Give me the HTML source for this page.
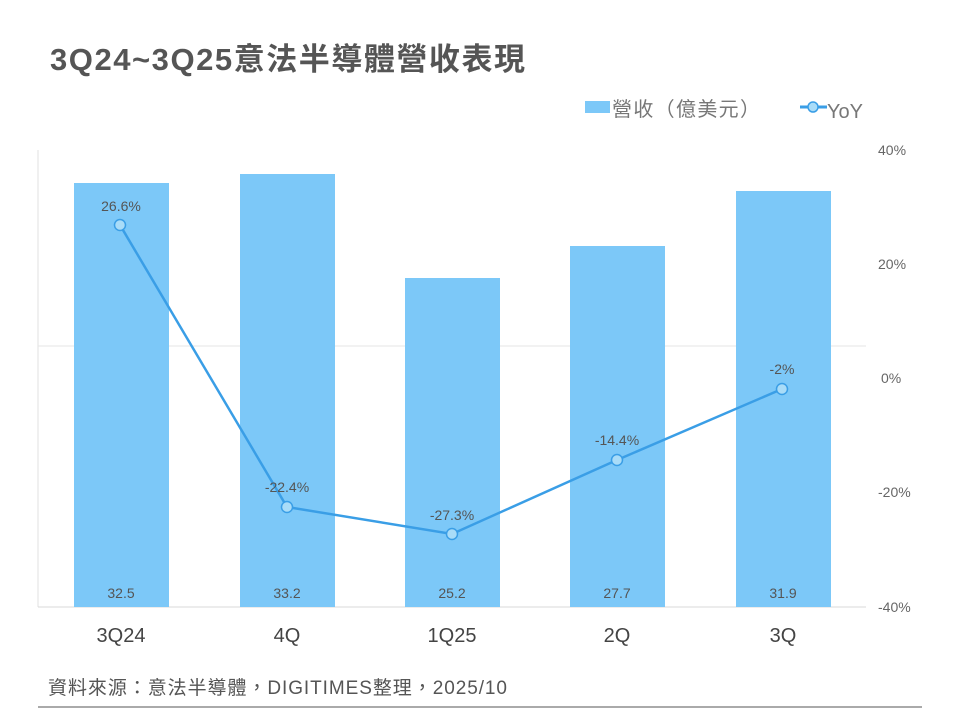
<!DOCTYPE html>
<html><head><meta charset="utf-8"><style>
body{margin:0;background:#fff;}
svg{display:block;font-family:"Liberation Sans","Noto Sans CJK TC",sans-serif;}
</style></head><body>
<svg width="960" height="720" viewBox="0 0 960 720">
<text x="50" y="70" font-size="31" font-weight="bold" fill="#555" textLength="475" lengthAdjust="spacing">3Q24~3Q25意法半導體營收表現</text>
<rect x="585" y="101" width="25" height="12" fill="#7cc8f8"/>
<text x="612" y="116" font-size="20" fill="#777" textLength="148" lengthAdjust="spacing">營收（億美元）</text>
<line x1="800" y1="107" x2="827" y2="107" stroke="#3a9ee6" stroke-width="3"/>
<circle cx="813" cy="107" r="5" fill="#a9dcf8" stroke="#3a9ee6" stroke-width="1.5"/>
<text x="827" y="118" font-size="20" fill="#777">YoY</text>
<line x1="38" y1="150" x2="38" y2="607" stroke="#e0e0e0"/>
<line x1="38" y1="346" x2="866" y2="346" stroke="#e6e6e6"/>
<line x1="38" y1="607" x2="866" y2="607" stroke="#d9d9d9"/>
<g fill="#7cc8f8">
<rect x="74" y="183" width="95" height="424"/>
<rect x="240" y="174" width="95" height="433"/>
<rect x="405" y="278" width="95" height="329"/>
<rect x="570" y="246" width="95" height="361"/>
<rect x="736" y="191" width="95" height="416"/>
</g>
<g font-size="14" fill="#555" text-anchor="middle">
<text x="121" y="598">32.5</text><text x="287" y="598">33.2</text><text x="452" y="598">25.2</text><text x="617" y="598">27.7</text><text x="783" y="598">31.9</text>
</g>
<g font-size="14" fill="#666">
<text x="878" y="155">40%</text><text x="878" y="269">20%</text><text x="881" y="383">0%</text><text x="878" y="497">-20%</text><text x="878" y="612">-40%</text>
</g>
<polyline points="120,225 287,507 452,534 617,460 782,389" fill="none" stroke="#3a9ee6" stroke-width="2.5"/>
<g fill="#a9dcf8" stroke="#3a9ee6" stroke-width="1.5">
<circle cx="120" cy="225" r="5.5"/><circle cx="287" cy="507" r="5.5"/><circle cx="452" cy="534" r="5.5"/><circle cx="617" cy="460" r="5.5"/><circle cx="782" cy="389" r="5.5"/>
</g>
<g font-size="14" fill="#555" text-anchor="middle">
<text x="121" y="211">26.6%</text><text x="287" y="492">-22.4%</text><text x="452" y="520">-27.3%</text><text x="617" y="445">-14.4%</text><text x="782" y="374">-2%</text>
</g>
<g font-size="20" fill="#444" text-anchor="middle">
<text x="121" y="642">3Q24</text><text x="287" y="642">4Q</text><text x="452" y="642">1Q25</text><text x="617" y="642">2Q</text><text x="783" y="642">3Q</text>
</g>
<text x="48" y="694" font-size="19" fill="#555" textLength="459" lengthAdjust="spacing">資料來源：意法半導體，DIGITIMES整理，2025/10</text>
<line x1="38" y1="707" x2="922" y2="707" stroke="#555" stroke-width="1"/>
</svg>
</body></html>
